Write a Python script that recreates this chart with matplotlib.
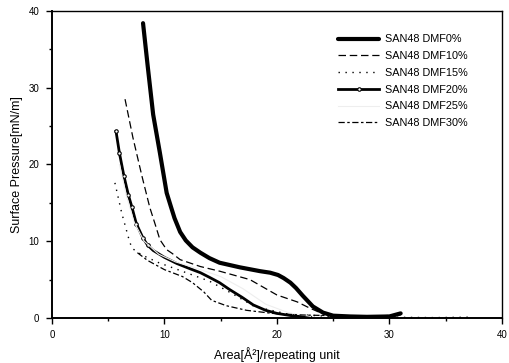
import matplotlib
matplotlib.use("Agg")
import matplotlib.pyplot as plt
from matplotlib.ticker import MultipleLocator

plt.rcParams['font.family'] = ['Liberation Sans', 'DejaVu Sans']

labels = ["SAN48 DMF0%", "SAN48 DMF10%", "SAN48 DMF15%",
          "SAN48 DMF20%", "SAN48 DMF25%", "SAN48 DMF30%"]

# area per repeating unit (A^2) / surface pressure (mN/m)
x_dmf0 = [8.1, 8.5, 9.0, 9.6, 10.2, 10.6, 10.9, 11.4, 11.9, 12.5, 13.2, 14.0, 14.9,
          16.7, 18.5, 19.4, 20.1, 20.6, 21.2, 21.7, 22.3, 23.2, 24.1, 25.0, 26.5,
          28.0, 30.0, 31.0]
y_dmf0 = [38.4, 33.0, 26.5, 21.5, 16.3, 14.4, 13.0, 11.2, 10.1, 9.2, 8.5, 7.8, 7.2,
          6.6, 6.1, 5.9, 5.6, 5.2, 4.6, 3.9, 2.9, 1.5, 0.7, 0.3, 0.2, 0.15, 0.2, 0.6]

x_dmf10 = [6.5, 7.2, 8.0, 8.7, 9.2, 9.6, 10.2, 10.7, 11.4, 13.2, 14.9, 17.6, 20.0,
           21.8, 22.9, 24.0, 25.0, 26.0]
y_dmf10 = [28.5, 23.5, 18.5, 14.4, 12.1, 10.2, 8.9, 8.4, 7.6, 6.7, 6.1, 5.0, 3.0,
           2.1, 1.3, 0.6, 0.3, 0.2]

x_dmf15 = [5.6, 6.2, 6.8, 7.1, 8.0, 9.5, 11.0, 12.5, 14.0, 16.0, 18.0, 21.0, 25.0,
           30.0, 34.0, 37.0]
y_dmf15 = [17.6, 13.7, 10.5, 9.1, 8.2, 7.2, 6.4, 5.6, 4.8, 3.2, 1.5, 0.5, 0.2,
           0.1, 0.05, 0.1]

x_dmf20 = [5.7, 6.0, 6.4, 6.8, 7.1, 7.5, 8.1, 8.5, 9.0, 10.0, 11.1, 12.3, 13.2,
           14.0, 14.9, 15.8, 16.9, 17.9, 19.0, 20.0, 21.5, 23.0]
y_dmf20 = [24.3, 21.5, 18.5, 16.0, 14.5, 12.3, 10.4, 9.5, 8.8, 7.9, 7.1, 6.4, 5.9,
           5.3, 4.6, 3.7, 2.7, 1.7, 1.0, 0.6, 0.25, 0.1]

x_dmf25 = [6.0, 6.6, 7.3, 8.2, 9.5, 11.0, 13.0, 15.0, 17.0, 19.0, 21.0, 23.0]
y_dmf25 = [20.0, 16.0, 12.5, 10.0, 8.3, 7.3, 6.4, 5.4, 3.8, 1.8, 0.7, 0.2]

x_dmf30 = [7.6, 8.5, 10.0, 11.6, 12.5, 13.5, 14.2, 15.5, 17.3, 19.6, 22.0, 25.0,
           28.0, 31.0]
y_dmf30 = [8.5, 7.5, 6.3, 5.4, 4.6, 3.4, 2.3, 1.6, 1.0, 0.6, 0.4, 0.3, 0.2, 0.4]

fig = plt.figure(figsize=(5.09, 3.63), dpi=100)
ax = fig.add_axes([0.102, 0.124, 0.884, 0.846])

ax.plot(x_dmf0, y_dmf0, color="black", lw=3.0, solid_capstyle="round",
        solid_joinstyle="round", label=labels[0])
ax.plot(x_dmf10, y_dmf10, color="black", lw=0.9, ls=(0, (6, 3)), label=labels[1])
ax.plot(x_dmf15, y_dmf15, color="black", lw=1.0, ls=(0, (1, 4)), label=labels[2])
ax.plot(x_dmf20, y_dmf20, color="black", lw=2.0, marker="o", ms=2.5, mfc="white",
        mew=0.8, markevery=list(range(8)), solid_joinstyle="round", label=labels[3])
ax.plot(x_dmf25, y_dmf25, color="#eeeeee", lw=0.8, label=labels[4])
ax.plot(x_dmf30, y_dmf30, color="black", lw=0.9, ls=(0, (5, 2, 2, 2)), label=labels[5])

ax.set_xlim(0, 40)
ax.set_ylim(0, 40)
ax.xaxis.set_major_locator(MultipleLocator(10))
ax.xaxis.set_minor_locator(MultipleLocator(5))
ax.yaxis.set_major_locator(MultipleLocator(10))
ax.yaxis.set_minor_locator(MultipleLocator(5))
ax.tick_params(which="major", direction="out", length=4, width=1, labelsize=7, pad=5)
ax.tick_params(which="minor", direction="out", length=2, width=1)
for side in ["left", "bottom"]:
    ax.spines[side].set_linewidth(1.4)
for side in ["top", "right"]:
    ax.spines[side].set_linewidth(1.0)

ax.set_xlabel("Area[Å²]/repeating unit", fontsize=9, labelpad=5)
ax.set_ylabel("Surface Pressure[mN/m]", fontsize=9, labelpad=4)

leg = ax.legend(loc="upper right", bbox_to_anchor=(0.945, 0.955), frameon=False,
                fontsize=7.8, handlelength=3.8, handletextpad=0.5, labelspacing=0.62)

fig.savefig("out.png", dpi=100)
